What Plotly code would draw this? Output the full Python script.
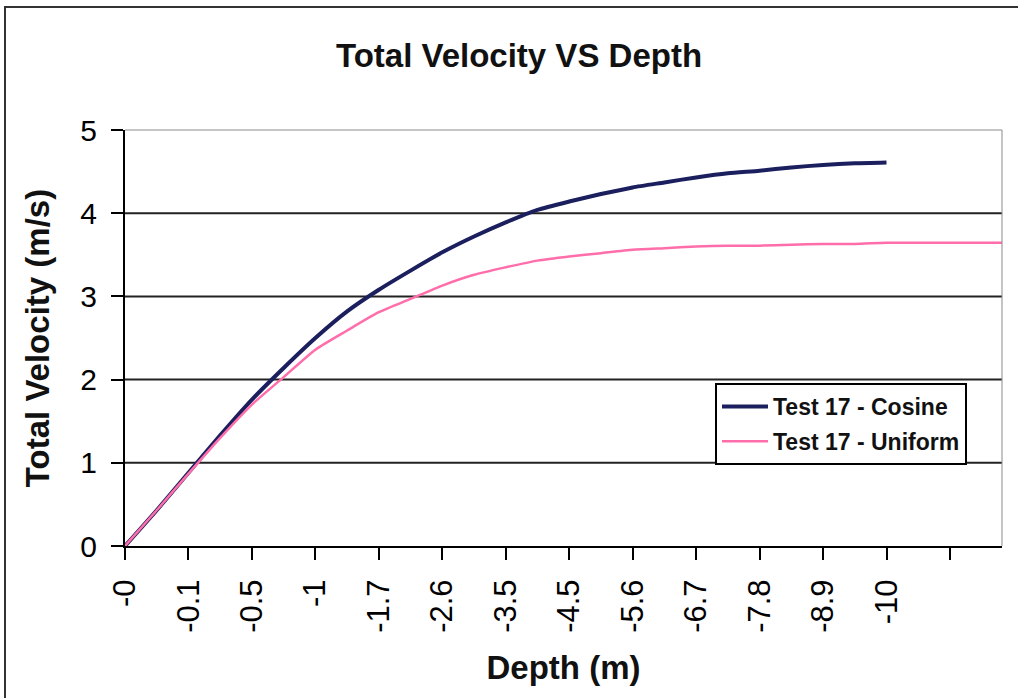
import plotly.graph_objects as go

# Depth labels shown under every category tick (the last tick carries no label)
depth_labels = ["-0", "-0.1", "-0.5", "-1", "-1.7", "-2.6", "-3.5", "-4.5",
                "-5.6", "-6.7", "-7.8", "-8.9", "-10", ""]

# Sample positions along the category axis (in tick units)
step_cosine = [0, 0.5, 1, 1.5, 2, 2.5, 3, 3.5, 4, 4.5, 5, 5.5, 6, 6.5, 7,
               7.5, 8, 8.5, 9, 9.5, 10, 10.5, 11, 11.5, 12]
step_uniform = [0, 0.5, 1, 1.5, 2, 2.5, 3, 3.5, 4, 4.5, 5, 5.5, 6, 6.5, 7,
                7.5, 8, 8.5, 9, 9.5, 10, 10.5, 11, 11.5, 12, 12.5, 13, 13.5, 13.82]

# Total velocity (m/s)
vel_cosine = [0, 0.43, 0.88, 1.33, 1.76, 2.14, 2.50, 2.82, 3.08, 3.31, 3.53,
              3.72, 3.89, 4.04, 4.14, 4.23, 4.31, 4.37, 4.43, 4.48, 4.51,
              4.55, 4.58, 4.60, 4.61]
vel_uniform = [0, 0.43, 0.87, 1.30, 1.70, 2.03, 2.36, 2.59, 2.81, 2.97, 3.13,
               3.26, 3.35, 3.43, 3.48, 3.52, 3.56, 3.58, 3.60, 3.61, 3.61,
               3.62, 3.63, 3.63, 3.645, 3.645, 3.645, 3.645, 3.645]

y_ticks = [0, 1, 2, 3, 4, 5]
grid_levels = [1, 2, 3, 4]

FONT = "Liberation Sans, Arial, sans-serif"

fig = go.Figure()
fig.add_trace(go.Scatter(
    x=step_cosine, y=vel_cosine, mode="lines", name="<b>Test 17 - Cosine</b>",
    line=dict(color="#1b1f5e", width=4, shape="spline", smoothing=0.6),
    legendgroup="a"))
fig.add_trace(go.Scatter(
    x=step_uniform, y=vel_uniform, mode="lines", name="<b>Test 17 - Uniform</b>",
    line=dict(color="#ff6eaa", width=2.5, shape="spline", smoothing=0.6),
    legendgroup="b"))

shapes = []
# horizontal gridlines
for g in grid_levels:
    shapes.append(dict(type="line", xref="paper", yref="y", x0=0, x1=1,
                       y0=g, y1=g, line=dict(color="#222222", width=2),
                       layer="below"))
# plot-area frame (top and right edges)
shapes.append(dict(type="line", xref="paper", yref="paper", x0=0, x1=1,
                   y0=1, y1=1, line=dict(color="#8a8a8a", width=1)))
shapes.append(dict(type="line", xref="paper", yref="paper", x0=1, x1=1,
                   y0=0, y1=1, line=dict(color="#8a8a8a", width=1)))
# outer chart border
shapes.append(dict(type="rect", xref="paper", yref="paper",
                   x0=(5 - 125) / 877, x1=(1030 - 125) / 877,
                   y0=(546 - 710) / 416, y1=(546 - 7) / 416,
                   line=dict(color="#333333", width=2), layer="below"))

fig.update_layout(
    width=1018, height=698,
    margin=dict(l=125, r=16, t=130, b=152),
    paper_bgcolor="white", plot_bgcolor="white",
    font=dict(family=FONT, color="black"),
    title=dict(text="<b>Total Velocity VS Depth</b>",
               font=dict(size=33, family=FONT, color="#111111"),
               x=519 / 1018, xref="container", xanchor="center",
               y=1 - 55 / 698, yref="container", yanchor="middle"),
    shapes=shapes,
    showlegend=True,
    legend=dict(x=(715 - 125) / 877, y=(546 - 383) / 416,
                xanchor="left", yanchor="top",
                bgcolor="white", bordercolor="black", borderwidth=2,
                font=dict(size=23, family=FONT, color="#111111"),
                itemwidth=46,
                tracegroupgap=2, traceorder="grouped"),
    xaxis=dict(range=[0, step_uniform[-1]],
               tickmode="array", tickvals=list(range(len(depth_labels))),
               ticktext=depth_labels, tickangle=-90,
               ticks="outside", ticklen=12, tickwidth=2, tickcolor="black",
               tickfont=dict(size=31, family=FONT, color="black"),
               ticklabelstandoff=7,
               showline=True, linecolor="black", linewidth=2,
               showgrid=False, zeroline=False,
               title=dict(text="<b>Depth (m)</b>",
                          font=dict(size=33, family=FONT, color="#111111"),
                          standoff=24)),
    yaxis=dict(range=[0, 5], tickmode="array", tickvals=y_ticks,
               ticks="outside", ticklen=12, tickwidth=2, tickcolor="black",
               tickfont=dict(size=30, family=FONT, color="black"),
               ticklabelstandoff=8,
               showline=True, linecolor="black", linewidth=2,
               showgrid=False, zeroline=False,
               title=dict(text="<b>Total Velocity (m/s)</b>",
                          font=dict(size=33, family=FONT, color="#111111"),
                          standoff=21)),
)

fig.write_html("out.html")
